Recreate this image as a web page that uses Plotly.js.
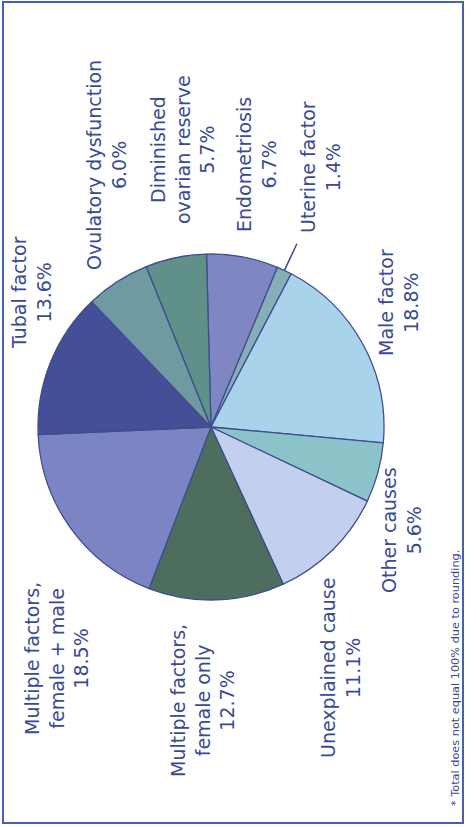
<!DOCTYPE html>
<html>
<head>
<meta charset="utf-8">
<script src="https://cdn.plot.ly/plotly-3.0.1.min.js"></script>
<style>
html,body{margin:0;padding:0;background:#fff;overflow:hidden;width:476px;height:827px}
#wrap{position:absolute;left:0;top:0;width:827px;height:476px;transform-origin:0 0;transform:translate(0px,827px) rotate(-90deg);}
#chart{width:827px;height:476px}
</style>
</head>
<body>
<div id="wrap"><div id="chart"></div></div>
<script>
// ---- data ----
const categories = ["Endometriosis","Uterine factor","Male factor","Other causes","Unexplained cause",
  "Multiple factors, female only","Multiple factors, female + male","Tubal factor","Ovulatory dysfunction","Diminished ovarian reserve"];
const labelLines = ["Endometriosis","Uterine factor","Male factor","Other causes","Unexplained cause",
  "Multiple factors,<br>female only","Multiple factors,<br>female + male","Tubal factor","Ovulatory dysfunction","Diminished<br>ovarian reserve"];
const values = [6.7, 1.4, 18.8, 5.6, 11.1, 12.7, 18.5, 13.6, 6.0, 5.7];
const footnote = "* Total does not equal 100% due to rounding.";

// ---- styling / layout ----
const colors = ["#7f87c2","#86aeb6","#a9d3ea","#8cc3c9","#c3cfee","#4d6e5d","#7b85c3","#454f98","#6f9aa1","#5f9189"];
const W = 827, H = 476;
const cx = 400, cy = 211, R = 173;      // pie centre / radius in px (unrotated frame)
const rotation = 88.5;
// label centres (px, unrotated frame)
const labelPos = [[662,256],[660,320],[524,398],[297,401],[159,340],[127,202],[168,56],[534,32],[662,107],[677,182]];
const txtColor = "#3b4a94";

const annotations = categories.map((c,i)=>({
  xref:'paper', yref:'paper', x: labelPos[i][0]/W, y: 1-labelPos[i][1]/H,
  xanchor:'center', yanchor:'middle', showarrow:false, align:'center',
  text: labelLines[i] + '<br>' + values[i].toFixed(1) + '%',
  font:{family:'DejaVu Sans', size:19, color:txtColor}
}));
annotations.push({xref:'paper', yref:'paper', x:19/W, y:1-455/H, xanchor:'left', yanchor:'middle',
  showarrow:false, text: footnote, font:{family:'DejaVu Sans', size:11.3, color:txtColor}});

// leader line for uterine factor from slice mid-angle
const total = values.reduce((a,b)=>a+b,0);
let cum = 0; for (let i=0;i<1;i++) cum += values[i];
const ang = (rotation + 360*(cum + values[1]/2)/total) * Math.PI/180;
const p0 = [cx + R*Math.sin(ang), cy - R*Math.cos(ang)];
const p1 = [cx + 1.17*R*Math.sin(ang), cy - 1.17*R*Math.cos(ang)];

const shapes = [
  {type:'rect', xref:'paper', yref:'paper', x0:4/W, x1:825/W, y0:1-463/H, y1:1-3/H,
   line:{color:'#4a5fb0', width:2}, fillcolor:'rgba(0,0,0,0)'},
  {type:'line', xref:'paper', yref:'paper', x0:p0[0]/W, y0:1-p0[1]/H, x1:p1[0]/W, y1:1-p1[1]/H,
   line:{color:'#3b4a94', width:1.5}}
];

const trace = {
  type:'pie', labels:categories, values:values, sort:false, direction:'clockwise',
  rotation:rotation, textinfo:'none', hoverinfo:'label+percent',
  marker:{colors:colors, line:{color:'#3d4d8f', width:1.3}},
  domain:{x:[(cx-R)/W,(cx+R)/W], y:[1-(cy+R)/H, 1-(cy-R)/H]}
};

Plotly.newPlot('chart',[trace],{
  width:W, height:H, margin:{l:0,r:0,t:0,b:0}, showlegend:false,
  paper_bgcolor:'#ffffff', annotations:annotations, shapes:shapes
},{staticPlot:true});
</script>
</body>
</html>
